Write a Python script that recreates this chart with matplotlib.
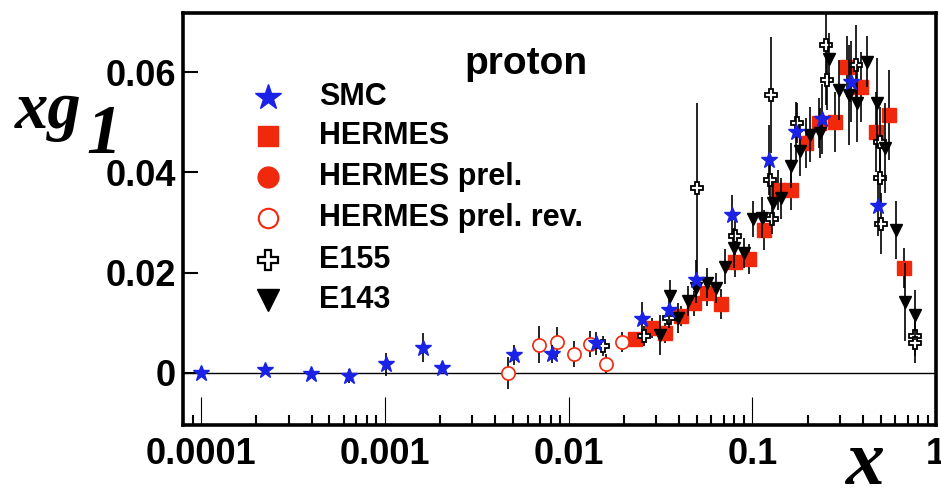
import matplotlib
matplotlib.use('Agg')
import matplotlib.pyplot as plt
from matplotlib.ticker import FixedLocator, LogLocator, NullFormatter

plt.rcParams['font.family'] = ['Liberation Sans', 'DejaVu Sans']
plt.rcParams['font.weight'] = 'bold'

# data
smc_x = [1.0e-4, 2.23e-4, 3.97e-4, 6.4e-4, 1.02e-3, 1.62e-3, 2.05e-3, 5.08e-3, 8.18e-3,
         0.0142, 0.0251, 0.0351, 0.0494, 0.0778, 0.123, 0.174, 0.240, 0.343, 0.485]
smc_y = [0.0000, 0.0005, -0.0002, -0.0006, 0.0017, 0.0050, 0.0009, 0.0036, 0.0037,
         0.0059, 0.0107, 0.0126, 0.0185, 0.0315, 0.0425, 0.0481, 0.0506, 0.0581, 0.0333]
smc_e = [0.0003, 0.0004, 0.0004, 0.0013, 0.0023, 0.0029, 0.0008, 0.0020, 0.0018,
         0.0023, 0.0035, 0.0030, 0.0040, 0.0040, 0.0070, 0.0060, 0.0070, 0.0080, 0.0060]

hermes_x = [0.0231, 0.0285, 0.0336, 0.0407, 0.0480, 0.0568, 0.0678, 0.0809, 0.0957, 0.1164,
            0.1377, 0.1615, 0.197, 0.230, 0.2806, 0.326, 0.392, 0.469, 0.554, 0.668]
hermes_y = [0.0067, 0.0090, 0.0080, 0.0114, 0.0139, 0.0159, 0.0138, 0.0222, 0.0227, 0.0285,
            0.0365, 0.0365, 0.0458, 0.0498, 0.0501, 0.0611, 0.0571, 0.0481, 0.0514, 0.0210]
hermes_e = [0.0015, 0.0020, 0.0020, 0.0020, 0.0025, 0.0025, 0.0030, 0.0030, 0.0030, 0.0040,
            0.0040, 0.0040, 0.0050, 0.0050, 0.0060, 0.0060, 0.0070, 0.0080, 0.0090, 0.0040]

# HERMES prel. is only in the legend (no points visible)
prel_x = []
prel_y = []

rev_x = [0.00468, 0.00687, 0.00865, 0.01066, 0.01303, 0.0160, 0.01954]
rev_y = [0.0000, 0.0056, 0.0062, 0.0038, 0.0058, 0.0017, 0.0062]
rev_e = [0.0032, 0.0037, 0.0030, 0.0026, 0.0026, 0.0020, 0.0020]

e155_x = [0.0154, 0.0257, 0.0351, 0.0501, 0.0809, 0.1256, 0.127, 0.1285, 0.1757, 0.2523,
          0.255, 0.369, 0.494, 0.494, 0.503, 0.764, 0.764]
e155_y = [0.0054, 0.0074, 0.0109, 0.0368, 0.0274, 0.0385, 0.0554, 0.0308, 0.0499, 0.0654,
          0.0584, 0.0614, 0.0461, 0.0388, 0.0298, 0.0074, 0.0060]
e155_e = [0.0020, 0.0020, 0.0020, 0.0170, 0.0030, 0.0040, 0.0115, 0.0030, 0.0040, 0.0120,
          0.0060, 0.0080, 0.0070, 0.0060, 0.0060, 0.0040, 0.0040]

e143_x = [0.0316, 0.0356, 0.0393, 0.0446, 0.0494, 0.0568, 0.0631, 0.0708, 0.0800, 0.0906,
          0.1012, 0.1133, 0.1294, 0.1436, 0.1615, 0.1815, 0.2056, 0.2330, 0.2611, 0.2960,
          0.3357, 0.3726, 0.4190, 0.4747, 0.5309, 0.6026, 0.6742, 0.7641]
e143_y = [0.0076, 0.0153, 0.0109, 0.0144, 0.0169, 0.0179, 0.0169, 0.0212, 0.0250, 0.0239,
          0.0307, 0.0310, 0.0338, 0.0348, 0.0413, 0.0443, 0.0475, 0.0478, 0.0627, 0.0564,
          0.0554, 0.0538, 0.0621, 0.0538, 0.0448, 0.0285, 0.0142, 0.0116]
e143_e = [0.0040, 0.0033, 0.0030, 0.0030, 0.0030, 0.0030, 0.0030, 0.0035, 0.0040, 0.0030,
          0.0035, 0.0040, 0.0040, 0.0040, 0.0045, 0.0050, 0.0055, 0.0050, 0.0050, 0.0060,
          0.0100, 0.0078, 0.0050, 0.0090, 0.0090, 0.0057, 0.0078, 0.0050]

x_ticks = [1e-4, 1e-3, 1e-2, 1e-1, 1]
x_labels = ['0.0001', '0.001', '0.01', '0.1', '1']
y_ticks = [0, 0.02, 0.04, 0.06]
y_labels = ['0', '0.02', '0.04', '0.06']

blue = '#1a22e6'
red = '#f0280c'

W, H = 941, 490


def fx(px):
    return px / W


def fy(py):
    return 1 - py / H


fig = plt.figure(figsize=(9.41, 4.9), dpi=100)
ax = fig.add_axes([fx(183), fy(425), (936 - 183) / W, (425 - 13) / H])
ax.set_xscale('log')
ax.set_xlim(7.98e-5, 1.0)
ax.set_ylim(-0.01037, 0.07178)

ax.axhline(0, color='black', lw=1.0, zorder=1)

eb = dict(ecolor='black', elinewidth=1.2, capsize=0, linestyle='none')
ax.errorbar(hermes_x, hermes_y, yerr=hermes_e, fmt='s', ms=9.5, mfc=red, mec=red, zorder=3, **eb)
ax.errorbar(rev_x, rev_y, yerr=rev_e, fmt='o', ms=9.5, mfc='white', mec=red, mew=1.2, zorder=3, **eb)
ax.plot(prel_x, prel_y, 'o', ms=8, color=red)
ax.errorbar(e155_x, e155_y, yerr=e155_e, fmt='P', ms=9, mfc='white', mec='black', mew=1.3, zorder=4, **eb)
ax.errorbar(e143_x, e143_y, yerr=e143_e, fmt='v', ms=9, mfc='black', mec='black', zorder=5, **eb)
ax.errorbar(smc_x, smc_y, yerr=smc_e, fmt='*', ms=12, mfc=blue, mec=blue, zorder=6, **eb)

# axes styling
for s in ax.spines.values():
    s.set_linewidth(2.6)
ax.xaxis.set_major_locator(FixedLocator(x_ticks))
ax.set_xticklabels(x_labels)
ax.xaxis.set_minor_locator(LogLocator(base=10, subs=range(2, 10), numticks=20))
ax.xaxis.set_minor_formatter(NullFormatter())
ax.set_yticks(y_ticks)
ax.set_yticklabels(y_labels)
ax.tick_params(axis='x', which='major', direction='in', length=20, width=0.8,
               labelsize=26, pad=9, top=False)
ax.tick_params(axis='x', which='minor', direction='in', length=7, width=1.5, top=False)
ax.tick_params(axis='y', which='major', direction='in', length=11, width=1.5,
               labelsize=26, pad=5, right=False)
ax.tick_params(axis='y', which='minor', left=False, right=False)
for lab in ax.get_xticklabels() + ax.get_yticklabels():
    lab.set_fontweight('bold')

# axis titles
fig.text(fx(15), fy(128), 'xg', family='Liberation Serif', style='italic', weight='bold',
         fontsize=48, ha='left', va='baseline')
fig.text(fx(86), fy(153), '1', family='Liberation Serif', style='italic', weight='bold',
         fontsize=50, ha='left', va='baseline')
fig.text(fx(846), fy(484), 'x', family='Liberation Serif', style='italic', weight='bold',
         fontsize=56, ha='left', va='baseline')

fig.text(fx(526), fy(74), 'proton', fontsize=28, weight='bold', ha='center', va='baseline')

# legend
leg_names = ['SMC', 'HERMES', 'HERMES prel.', 'HERMES prel. rev.', 'E155', 'E143']
leg_rows = [97, 136, 177, 218, 260, 300]
leg_style = [
    dict(marker='*', ms=19, mfc=blue, mec=blue),
    dict(marker='s', ms=15, mfc=red, mec=red),
    dict(marker='o', ms=15, mfc=red, mec=red),
    dict(marker='o', ms=14, mfc='white', mec=red, mew=1.5),
    dict(marker='P', ms=14, mfc='white', mec='black', mew=1.6),
    dict(marker='v', ms=16, mfc='black', mec='black'),
]
for name, row, st in zip(leg_names, leg_rows, leg_style):
    ax.plot([fx(268)], [fy(row)], transform=fig.transFigure, clip_on=False,
            linestyle='none', **st)
    fig.text(fx(319), fy(row), name, fontsize=22, weight='bold', ha='left', va='center')

fig.savefig('out.png', dpi=100)
